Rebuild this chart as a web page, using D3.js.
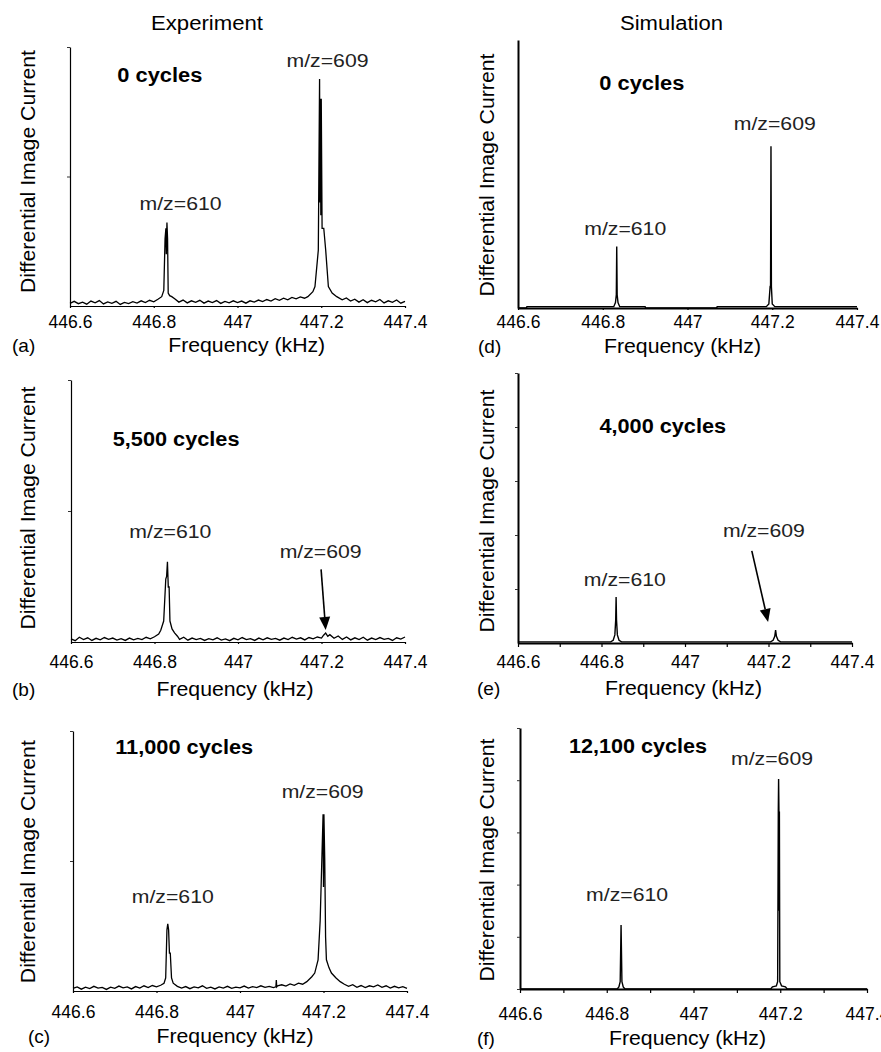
<!DOCTYPE html>
<html>
<head>
<meta charset="utf-8">
<script src="https://cdn.jsdelivr.net/npm/d3@7"></script>
<style>
  body { margin: 0; background: #fff; }
  svg { display: block; font-family: "Liberation Sans", Arial, sans-serif; }
</style>
</head>
<body>
<div class="chart"></div>
<script>
// frequency axis (kHz), shared by the six panels
var freqDomain = [446.6, 447.4];
var freqTicks = [446.6, 446.8, 447.0, 447.2, 447.4];
var freqMinorTicks = [446.6, 446.7, 446.8, 446.9, 447.0, 447.1, 447.2, 447.3, 447.4];

// spectra: [frequency (kHz), relative image current (0-100)]
var specA = [
  [446.60,1.0],[446.61,1.8],[446.62,0.9],[446.63,1.5],[446.64,0.7],[446.65,1.9],[446.66,1.2],[446.67,2.1],
  [446.68,0.8],[446.69,1.6],[446.70,1.0],[446.71,1.8],[446.72,0.6],[446.73,1.4],[446.74,0.9],[446.75,1.7],
  [446.76,1.1],[446.77,2.0],[446.78,1.3],[446.79,2.2],[446.80,1.6],[446.81,2.6],[446.819,3.6],[446.824,6],
  [446.827,26],[446.829,30],[446.830,20],[446.8315,32.2],[446.833,26],[446.8345,5],[446.838,4],[446.843,3.6],[446.85,2.8],
  [446.86,1.5],[446.87,2.3],[446.88,1.2],[446.89,2.0],[446.90,1.4],[446.91,2.2],[446.92,1.1],[446.93,1.9],
  [446.94,1.3],[446.95,2.1],[446.96,1.0],[446.97,1.8],[446.98,1.2],[446.99,2.0],[447.00,1.3],[447.01,1.9],
  [447.02,1.1],[447.03,2.0],[447.04,1.5],[447.05,2.3],[447.06,1.7],[447.07,2.5],[447.08,1.9],[447.09,2.8],
  [447.10,2.2],[447.11,3.0],[447.12,2.4],[447.13,3.3],[447.14,2.8],[447.15,3.5],[447.16,3.0],[447.168,3.6],
  [447.180,5.5],[447.185,7.5],[447.193,21.6],[447.196,87.6],[447.197,40],[447.198,80],[447.199,35],[447.200,80],
  [447.202,30],[447.206,30],[447.2106,21.6],[447.217,7.5],[447.226,5],[447.237,3.6],[447.25,2.4],[447.26,3.1],
  [447.27,1.9],[447.28,2.6],[447.29,1.5],[447.30,2.4],[447.31,1.3],[447.32,2.2],[447.33,1.6],[447.34,2.5],
  [447.35,1.2],[447.36,2.0],[447.37,1.4],[447.38,2.3],[447.39,1.1],[447.40,1.8]
];
var specB = [
  [446.60,1.2],[446.61,0.5],[446.62,1.8],[446.63,0.9],[446.64,1.6],[446.65,0.6],[446.66,1.4],[446.67,0.8],
  [446.68,1.7],[446.69,1.0],[446.70,1.5],[446.71,0.7],[446.72,1.3],[446.73,0.6],[446.74,1.5],[446.75,0.8],
  [446.76,1.4],[446.77,0.9],[446.78,1.8],[446.79,1.2],[446.80,2.0],[446.81,3.0],[446.815,4.5],[446.822,8],
  [446.827,24],[446.829,25],[446.831,30.6],[446.833,21],[446.835,21],[446.837,8],[446.842,5],[446.848,3.5],
  [446.855,2.2],[446.86,1.0],[446.87,1.8],[446.88,0.7],[446.89,1.5],[446.90,0.9],[446.91,1.4],[446.92,0.6],
  [446.93,1.3],[446.94,0.8],[446.95,1.6],[446.96,0.7],[446.97,1.2],[446.98,0.5],[446.99,1.4],[447.00,0.8],
  [447.01,1.7],[447.02,0.9],[447.03,1.3],[447.04,0.6],[447.05,1.5],[447.06,0.8],[447.07,1.6],[447.08,1.0],
  [447.09,1.4],[447.10,0.7],[447.11,1.5],[447.12,0.9],[447.13,1.8],[447.14,1.1],[447.15,1.6],[447.16,0.8],
  [447.17,1.7],[447.18,1.2],[447.19,1.9],[447.20,1.5],[447.205,2.6],[447.21,3.4],[447.215,2.2],[447.22,2.8],
  [447.23,1.4],[447.24,2.3],[447.25,1.0],[447.26,1.9],[447.27,0.8],[447.28,1.6],[447.29,0.9],[447.30,1.8],
  [447.31,0.7],[447.32,1.5],[447.33,0.9],[447.34,1.7],[447.35,1.0],[447.36,1.4],[447.37,0.6],[447.38,1.6],
  [447.39,1.1],[447.40,1.9]
];
var specC = [
  [446.60,1.0],[446.61,1.6],[446.62,0.7],[446.63,1.5],[446.64,0.9],[446.65,1.8],[446.66,1.1],[446.67,1.4],
  [446.68,0.6],[446.69,1.5],[446.70,1.0],[446.71,1.9],[446.72,1.2],[446.73,1.6],[446.74,0.8],[446.75,1.7],
  [446.76,1.1],[446.77,2.0],[446.78,1.3],[446.79,2.1],[446.80,1.6],[446.81,2.2],[446.818,3],[446.822,5],
  [446.825,23.5],[446.827,25.8],[446.829,23.5],[446.831,14.6],[446.833,14.6],[446.836,5],[446.840,3],[446.85,1.8],
  [446.86,1.1],[446.87,1.7],[446.88,0.9],[446.89,1.6],[446.90,1.2],[446.91,2.0],[446.92,1.0],[446.93,1.5],
  [446.94,0.8],[446.95,1.6],[446.96,1.1],[446.97,1.8],[446.98,1.0],[446.99,1.5],[447.00,1.2],[447.01,1.9],
  [447.02,1.1],[447.03,1.7],[447.04,1.3],[447.05,2.0],[447.06,1.4],[447.07,1.8],[447.08,1.3],[447.086,1.6],
  [447.087,4.2],[447.088,1.6],[447.09,2.0],[447.10,2.4],[447.11,1.9],[447.12,2.7],[447.13,2.2],[447.14,3.0],
  [447.15,2.6],[447.160,3.6],[447.172,5.5],[447.179,6.9],[447.187,12],[447.192,27],[447.196,50.4],[447.199,68],
  [447.200,40],[447.201,68],[447.203,50.4],[447.205,20.8],[447.207,12],[447.213,9],[447.219,6.9],[447.23,5],
  [447.240,3.6],[447.25,2.6],[447.26,1.8],[447.27,2.4],[447.28,1.4],[447.29,2.1],[447.30,1.3],[447.31,2.0],
  [447.32,1.6],[447.33,2.3],[447.34,1.4],[447.35,2.0],[447.36,1.1],[447.37,1.8],[447.38,1.2],[447.39,1.7],
  [447.40,1.0]
];
var specD = [
  [446.60,0],[446.62,0],[446.621,0.5],[446.826,0.5],[446.830,2],[446.832,4.9],[446.833,22.9],[446.834,4.9],
  [446.836,2],[446.840,0.5],[446.90,0.5],[446.901,0],[447.069,0],[447.07,0.5],[447.186,0.5],[447.192,1.5],
  [447.195,8],[447.196,8],[447.197,60.4],[447.198,8],[447.200,1.5],[447.206,0.5],[447.40,0.5]
];
var specE = [
  [446.60,0.4],[446.822,0.4],[446.828,1],[446.832,3],[446.834,8.5],[446.835,17],[446.836,8.5],[446.838,3],
  [446.842,1],[446.848,0.4],[447.205,0.4],[447.211,1],[447.215,2.5],[447.217,4.8],[447.219,2.5],[447.223,1],
  [447.229,0.4],[447.40,0.4]
];
var specF = [
  [446.60,0],[446.824,0],[446.828,0.8],[446.831,2.8],[446.833,24.5],[446.835,2.8],[446.838,0.8],[446.842,0],
  [447.178,0],[447.182,0.8],[447.191,1.2],[447.194,2.8],[447.1955,68],[447.1962,80.5],[447.197,68],[447.1975,30],
  [447.198,68],[447.199,2.8],[447.203,1.2],[447.212,0.8],[447.216,0],[447.40,0]
];

// text and annotation anchors, one entry per panel a..f  ([frequency, amplitude])
var panelLetters = ["(a)", "(b)", "(c)", "(d)", "(e)", "(f)"];
var cycleLabels = ["0 cycles", "5,500 cycles", "11,000 cycles", "0 cycles", "4,000 cycles", "12,100 cycles"];
var cycleAnchor = [[446.713,86.6],[446.700,74.8],[446.701,91.2],[446.792,81.3],[446.795,77.7],[446.713,90.5]];
var label610 = [[446.864,37.1],[446.838,39.6],[446.839,33.7],[446.853,27.2],[446.856,21.2],[446.847,33.8]];
var label609 = [[447.215,92.4],[447.198,31.9],[447.198,74.1],[447.206,66.4],[447.189,39.1],[447.181,85.8]];
// arrows to the weak m/z=609 peak: [tail f, tail amp, tip f, tip amp]
var arrows609 = [null, [447.199,27.7,447.210,4.6], null, null, [447.160,34.1,447.199,7.8], null];

var spectra = [specA, specB, specC, specD, specE, specF];

// pixel frame of each panel
var panels = [
  {x0: 70,  x1: 405, top: 47,  bottom: 306, sim: false, yTicks: [50, 100], minor: false, tickGap: 22, titleX: 246.7, titleY: 352,  letterX: 12,  yLabX: 35,  yLabY: 171.5},
  {x0: 71,  x1: 405, top: 380, bottom: 642, sim: false, yTicks: [50, 100], minor: false, tickGap: 26, titleX: 235,   titleY: 696,  letterX: 12,  yLabX: 35,  yLabY: 508},
  {x0: 73,  x1: 407, top: 731, bottom: 991, sim: false, yTicks: [50, 100], minor: false, tickGap: 27, titleX: 235,   titleY: 1043, letterX: 28,  yLabX: 35,  yLabY: 861.7},
  {x0: 518, x1: 857, top: 40,  bottom: 308, sim: true,  yTicks: [],        minor: false, tickGap: 20, titleX: 682.5, titleY: 353,  letterX: 478, yLabX: 494, yLabY: 175},
  {x0: 518, x1: 852, top: 373, bottom: 643, sim: true,  yTicks: [20, 40, 60, 80, 100], minor: true, tickGap: 25, titleX: 683.5, titleY: 695, letterX: 477, yLabX: 494, yLabY: 511},
  {x0: 520, x1: 867, top: 728, bottom: 989, sim: true,  yTicks: [0, 20, 40, 60, 80, 100], minor: true, tickGap: 31, titleX: 687.5, titleY: 1045, letterX: 477, yLabX: 494, yLabY: 860}
];

var svg = d3.select(".chart").append("svg")
  .attr("width", 881)
  .attr("height", 1052);

// column headings
svg.append("text").attr("x", 207).attr("y", 30).attr("text-anchor", "middle")
  .attr("font-size", 20).attr("textLength", 112).attr("lengthAdjust", "spacingAndGlyphs")
  .text("Experiment");
svg.append("text").attr("x", 671.5).attr("y", 30).attr("text-anchor", "middle")
  .attr("font-size", 20).attr("textLength", 103).attr("lengthAdjust", "spacingAndGlyphs")
  .text("Simulation");

panels.forEach(function (p, i) {
  var x = d3.scaleLinear().domain(freqDomain).range([p.x0, p.x1]);
  var y = d3.scaleLinear().domain([0, 100]).range([p.bottom, p.top]);
  var axisW = p.sim ? 2 : 1.2;

  var g = svg.append("g");

  // y axis (no labels, only small ticks)
  var yAxis = g.append("g")
    .attr("transform", `translate(${p.x0},0)`)
    .call(d3.axisLeft(y).tickValues(p.yTicks).tickSizeInner(3).tickSizeOuter(0).tickFormat(""));
  yAxis.select(".domain").attr("stroke", "#000").attr("stroke-width", axisW);
  yAxis.selectAll(".tick line").attr("stroke", "#333").attr("stroke-width", 1);

  // x axis
  var xAxis = g.append("g")
    .attr("transform", `translate(0,${p.bottom})`)
    .call(d3.axisBottom(x)
      .tickValues(p.minor ? freqMinorTicks : freqTicks)
      .tickSizeInner(p.minor ? 4 : 2)
      .tickSizeOuter(0)
      .tickFormat(function (d) {
        var lab = +d.toFixed(1);
        return freqTicks.some(function (t) { return Math.abs(t - d) < 1e-6; }) ? String(lab) : "";
      }));
  xAxis.select(".domain").attr("stroke", "#000").attr("stroke-width", axisW);
  xAxis.selectAll(".tick line").attr("stroke", "#000").attr("stroke-width", 1.2);
  xAxis.selectAll(".tick text")
    .attr("y", p.tickGap).attr("dy", null)
    .attr("font-size", 17.5)
    .attr("font-family", "Liberation Sans, Arial, sans-serif")
    .attr("fill", "#000");

  // spectrum trace
  var line = d3.line()
    .x(function (d) { return x(d[0]); })
    .y(function (d) { return y(d[1]); });
  g.append("path")
    .datum(spectra[i])
    .attr("fill", "none")
    .attr("stroke", "#000")
    .attr("stroke-width", p.sim ? 1.4 : 1.3)
    .attr("stroke-linejoin", "miter")
    .attr("d", line);

  // peak labels
  g.append("text")
    .attr("x", x(label610[i][0])).attr("y", y(label610[i][1]))
    .attr("text-anchor", "middle").attr("font-size", 19).attr("fill", "#222")
    .attr("textLength", 82).attr("lengthAdjust", "spacingAndGlyphs")
    .text("m/z=610");
  g.append("text")
    .attr("x", x(label609[i][0])).attr("y", y(label609[i][1]))
    .attr("text-anchor", "middle").attr("font-size", 19).attr("fill", "#222")
    .attr("textLength", 82).attr("lengthAdjust", "spacingAndGlyphs")
    .text("m/z=609");

  // number of cycles
  var cyc = cycleLabels[i];
  g.append("text")
    .attr("x", x(cycleAnchor[i][0])).attr("y", y(cycleAnchor[i][1]))
    .attr("font-size", 20).attr("font-weight", "bold")
    .attr("textLength", cyc.length < 9 ? 85 : (cyc.length < 13 ? 126.7 : 138))
    .attr("lengthAdjust", "spacingAndGlyphs")
    .text(cyc);

  // arrow to a weak peak
  var a = arrows609[i];
  if (a) {
    var tx = x(a[0]), ty = y(a[1]), hx = x(a[2]), hy = y(a[3]);
    var len = Math.hypot(hx - tx, hy - ty);
    var ux = (hx - tx) / len, uy = (hy - ty) / len;
    var headL = 13, headW = 11;
    var bx = hx - ux * headL, by = hy - uy * headL;
    g.append("line")
      .attr("x1", tx).attr("y1", ty).attr("x2", bx).attr("y2", by)
      .attr("stroke", "#000").attr("stroke-width", 1.6);
    g.append("path")
      .attr("d", `M${hx},${hy}L${bx - uy * headW / 2},${by + ux * headW / 2}L${bx + uy * headW / 2},${by - ux * headW / 2}Z`)
      .attr("fill", "#000");
  }

  // axis titles and panel letter
  g.append("text")
    .attr("x", p.titleX).attr("y", p.titleY)
    .attr("text-anchor", "middle").attr("font-size", 21)
    .attr("textLength", 157).attr("lengthAdjust", "spacingAndGlyphs")
    .text("Frequency (kHz)");
  g.append("text")
    .attr("x", p.letterX).attr("y", p.titleY)
    .attr("font-size", 19)
    .text(panelLetters[i]);
  g.append("text")
    .attr("transform", `translate(${p.yLabX},${p.yLabY}) rotate(-90)`)
    .attr("text-anchor", "middle").attr("font-size", 20)
    .attr("textLength", 243).attr("lengthAdjust", "spacingAndGlyphs")
    .text("Differential Image Current");
});
</script>
</body>
</html>
